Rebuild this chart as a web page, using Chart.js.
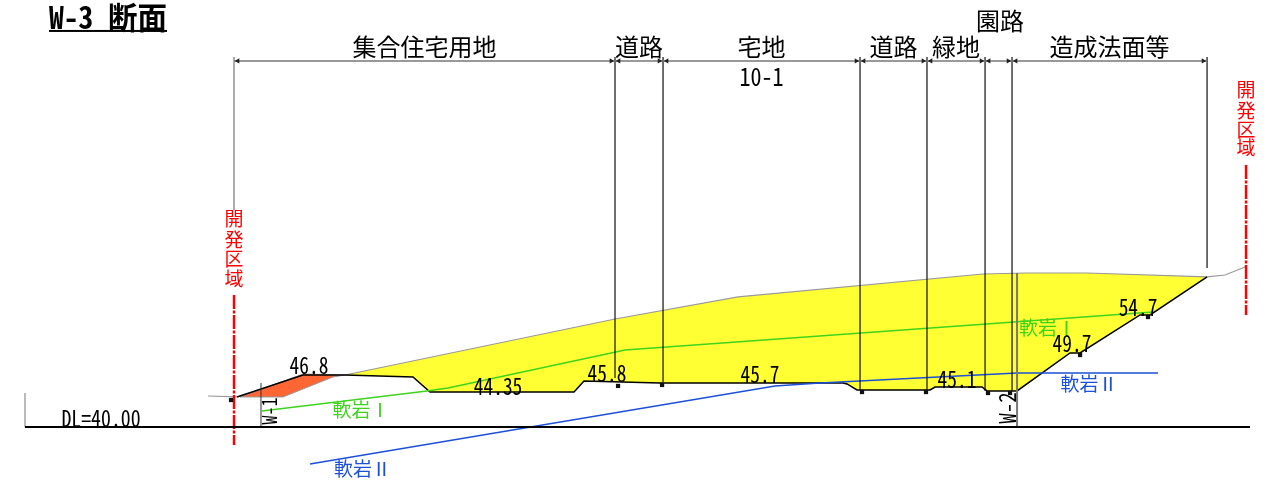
<!DOCTYPE html>
<html lang="ja">
<head>
<meta charset="utf-8">
<title>W-3 断面</title>
<script src="https://cdn.jsdelivr.net/npm/chart.js@4"></script>
<style>
  html, body { margin: 0; padding: 0; background: #fff; }
  canvas { display: block; }
</style>
</head>
<body>
<canvas id="section" width="1275" height="483"></canvas>
<script>
// ── Data (x = station in m from the site boundary, y = elevation in m) ──────

const titleText = "W-3 断面";
const baseText = "DL=40.00";
const baseElev = 40;

const sectionNames = ["集合住宅用地", "道路", "宅地", "道路", "緑地", "園路", "造成法面等"];
const lotNumber = "10-1";
const boundaryX = [0, 50.13, 56.45, 82.37, 91.18, 98.82, 102.37, 128.03];
const boundaryBottom = [68.55, 46.45, 45.92, 44.87, 44.87, 44.74, 44.74, 60.92];

// designed ground
const cutX = [0.39, 9.08, 14.61, 23.55, 25.79, 44.74, 46.05, 56.05, 80.13, 80.66, 81.97, 91.58, 92.24, 98.42, 99.08, 103.03, 110, 111.32, 119.21, 120.53, 128.03];
const cutY = [43.95, 46.84, 46.84, 46.58, 44.61, 44.61, 46.05, 45.79, 45.79, 45.66, 44.87, 44.87, 45.26, 45.26, 44.74, 44.74, 49.74, 49.74, 54.74, 54.74, 59.74];

// existing ground
const groundX = [14.61, 50.13, 66.32, 98.55, 104.34, 112.24, 128.03];
const groundY = [46.84, 54.21, 57.11, 60.13, 60.26, 60.26, 59.74];
const outerLeftX = [-3.42, 0.39];
const outerLeftY = [44.08, 43.95];
const outerRightX = [128.03, 130.39, 133.03];
const outerRightY = [59.74, 60, 61.05];

// fill area at the left end
const embankX = [0.79, 9.08, 14.61, 13.03, 6.45];
const embankY = [43.95, 46.97, 46.84, 46.58, 43.95];

// rock layers
const rock1X = [3.68, 25.39, 28.16, 51.45, 120.92];
const rock1Y = [42.11, 44.74, 45.13, 50.13, 55.13];
const rock2X = [10, 71.18, 77.11, 103.03, 121.58];
const rock2Y = [35.13, 45.39, 45.79, 47.11, 47.11];
const rock1Name = "軟岩Ⅰ";
const rock2Name = "軟岩Ⅱ";
const rock1LabelX = [16.7, 107.05];
const rock1LabelY = [42.24, 53.03];
const rock2LabelX = [16.9, 112.5];
const rock2LabelY = [34.47, 45.66];

// elevation notes
const elevTexts = ["46.8", "44.35", "45.8", "45.7", "45.1", "49.7", "54.7"];
const elevX = [9.87, 34.74, 49.08, 69.21, 95.13, 110.26, 118.95];
const elevY = [48.16, 45.39, 47.11, 46.97, 46.32, 51.05, 55.79];

// drains
const drainX = [-0.39, 50.53, 56.32, 82.63, 91.05, 99.21, 102.11, 111.32, 120.26];
const drainY = [43.55, 45.4, 45.53, 44.6, 44.6, 44.47, 44.47, 49.47, 54.47];

// boreholes
const boreNames = ["W-1", "W-2"];
const boreX = [3.55, 103.03];
const boreTop = [45.79, 60.26];

const limitChars = ["開", "発", "区", "域"];
const limitLeftY = [67.37, 64.6, 62.1, 59.47];
const limitRightY = [84.34, 81.58, 79.08, 76.71];
const limitRightX = 133.16;

// ── Helpers ──────────────────────────────────────────────────────────────────

const zip = (xs, ys) => xs.map((x, i) => ({ x, y: ys[i] }));

function polyline(data, color, width, extra) {
  return { data, borderColor: color, borderWidth: width, showLine: true, pointRadius: 0, fill: false, ...extra };
}

const dimY = 88.16;
const dimTop = 88.68;

const verticals = boundaryX.flatMap((x, i) =>
  i === 0 ? [] : [{ x, y: dimTop }, { x, y: boundaryBottom[i] }, { x, y: null }]);

const arrowsRight = boundaryX.slice(1).map(x => ({ x: x - 0.5, y: dimY }));
const arrowsLeft = boundaryX.slice(0, -1).map(x => ({ x: x + 0.5, y: dimY }));

// ── Text drawn through the scales ───────────────────────────────────────────

const SANS = '"Noto Sans CJK JP", sans-serif';
const MONO = '"Noto Sans Mono CJK JP", "Noto Sans CJK JP", sans-serif';

const mid = (a, b) => (boundaryX[a] + boundaryX[b]) / 2;

// cell = width of one half-width character, the drawing font is narrow and tall
const labels = [
  { text: sectionNames[0], x: mid(0, 1), y: 90, size: 24 },
  { text: sectionNames[1], x: mid(1, 2), y: 90, size: 24 },
  { text: sectionNames[2], x: mid(2, 3), y: 90, size: 24 },
  { text: sectionNames[3], x: mid(3, 4), y: 90, size: 24 },
  { text: sectionNames[4], x: mid(4, 5), y: 90, size: 24 },
  { text: sectionNames[5], x: 100.79, y: 93.42, size: 24 },
  { text: sectionNames[6], x: mid(6, 7), y: 90, size: 24 },
  { text: lotNumber, x: mid(2, 3), y: 86.18, size: 25, font: MONO, cell: 11 },
  { text: baseText, x: -17.5, y: 41.18, size: 23, font: MONO, cell: 9.9 },
  { text: boreNames[0], x: 4.67, y: 42.11, size: 20, font: MONO, cell: 9, rotate: true },
  { text: boreNames[1], x: 101.71, y: 42.5, size: 23, font: MONO, cell: 10.5, rotate: true },
];
elevTexts.forEach((text, i) => labels.push({ text, x: elevX[i], y: elevY[i], size: 23, font: MONO, cell: 9.7 }));
rock1LabelX.forEach((x, i) => labels.push({ text: rock1Name, x, y: rock1LabelY[i], size: 19, color: "#3ed41c" }));
rock2LabelX.forEach((x, i) => labels.push({ text: rock2Name, x, y: rock2LabelY[i], size: 19, color: "#1c50d8" }));
limitChars.forEach((text, i) => {
  labels.push({ text, x: 0, y: limitLeftY[i], size: 19, color: "#ff0000" });
  labels.push({ text, x: limitRightX, y: limitRightY[i], size: 19, color: "#ff0000" });
});

const textPlugin = {
  id: "sectionText",
  afterDatasetsDraw(chart) {
    const { ctx, scales: { x: xs, y: ys } } = chart;
    ctx.save();
    ctx.textBaseline = "middle";
    ctx.textAlign = "center";
    labels.forEach(l => {
      const px = xs.getPixelForValue(l.x);
      const py = ys.getPixelForValue(l.y);
      ctx.save();
      ctx.font = `${l.size}px ${l.font || SANS}`;
      ctx.fillStyle = l.color || "#000";
      ctx.translate(px, py);
      if (l.rotate) ctx.rotate(-Math.PI / 2);
      if (l.cell) ctx.fillText(l.text, 0, 0, l.text.length * l.cell);
      else ctx.fillText(l.text, 0, 0);
      ctx.restore();
    });

    // title, left aligned and underlined
    const tx = xs.getPixelForValue(-24.34);
    const ty = ys.getPixelForValue(93.95);
    ctx.textAlign = "left";
    ctx.font = `bold 31px ${MONO}`;
    ctx.fillStyle = "#000";
    ctx.fillText(titleText, tx, ty, 118);
    ctx.fillRect(tx, ty + 13, 118, 2);
    ctx.restore();
  }
};

// ── Chart ────────────────────────────────────────────────────────────────────
// First dataset ends up on top, so the fills are at the end of the list.

new Chart(document.getElementById("section"), {
  type: "scatter",
  plugins: [textPlugin],
  data: {
    datasets: [
      // drains
      { data: zip(drainX, drainY), pointStyle: "rect", pointRadius: 3, backgroundColor: "#111", borderColor: "#111", borderWidth: 0 },
      // base line and its end tick
      polyline([{ x: -27.5, y: baseElev }, { x: 133.68, y: baseElev }], "#000", 2.2),
      polyline([{ x: -27.5, y: baseElev }, { x: -27.5, y: 44.47 }], "#777", 1),
      // site limit
      polyline([{ x: 0, y: 57.37 }, { x: 0, y: 37.63 }], "#ff0000", 2.5, { borderDash: [14, 1.5, 3, 1.5] }),
      polyline([{ x: limitRightX, y: 74.47 }, { x: limitRightX, y: 54.74 }], "#ff0000", 2.5, { borderDash: [14, 1.5, 3, 1.5] }),
      // boreholes
      polyline([{ x: boreX[0], y: baseElev }, { x: boreX[0], y: boreTop[0] }], "#333", 1),
      polyline([{ x: boreX[1], y: baseElev }, { x: boreX[1], y: boreTop[1] }], "#777", 2),
      // dimension line
      { data: arrowsRight, pointStyle: "triangle", pointRotation: 90, pointRadius: 3, backgroundColor: "#222", borderWidth: 0 },
      { data: arrowsLeft, pointStyle: "triangle", pointRotation: -90, pointRadius: 3, backgroundColor: "#222", borderWidth: 0 },
      polyline([{ x: 0, y: dimY }, { x: 128.03, y: dimY }], "#777", 1.5),
      polyline(verticals, "#111", 1.2),
      polyline([{ x: 0, y: dimTop }, { x: 0, y: boundaryBottom[0] }], "#777", 1.2),
      // rock layers
      polyline(zip(rock1X, rock1Y), "#3ed41c", 1.5),
      polyline(zip(rock2X, rock2Y), "#1c50d8", 1.5),
      // ground lines
      polyline(zip(cutX, cutY), "#000", 1.5),
      polyline(zip(groundX, groundY), "#999", 1.2),
      polyline(zip(outerLeftX, outerLeftY), "#999", 1.2),
      polyline(zip(outerRightX, outerRightY), "#999", 1.2),
      // fills
      polyline(zip(embankX, embankY).concat({ x: embankX[0], y: embankY[0] }), "#999", 1, { fill: "shape", backgroundColor: "#ff6633" }),
      polyline(zip(cutX.slice(2), cutY.slice(2)).concat(zip(groundX, groundY).reverse()), "rgba(0,0,0,0)", 0, { fill: "shape", backgroundColor: "#ffff33" }),
    ]
  },
  options: {
    responsive: false,
    animation: false,
    events: [],
    layout: { padding: 0, autoPadding: false },
    plugins: { legend: { display: false }, tooltip: { enabled: false } },
    scales: {
      x: { type: "linear", display: false, min: -30.79, max: 136.97 },
      y: { type: "linear", display: false, min: 32.63, max: 96.18 }
    }
  }
});
</script>
</body>
</html>
